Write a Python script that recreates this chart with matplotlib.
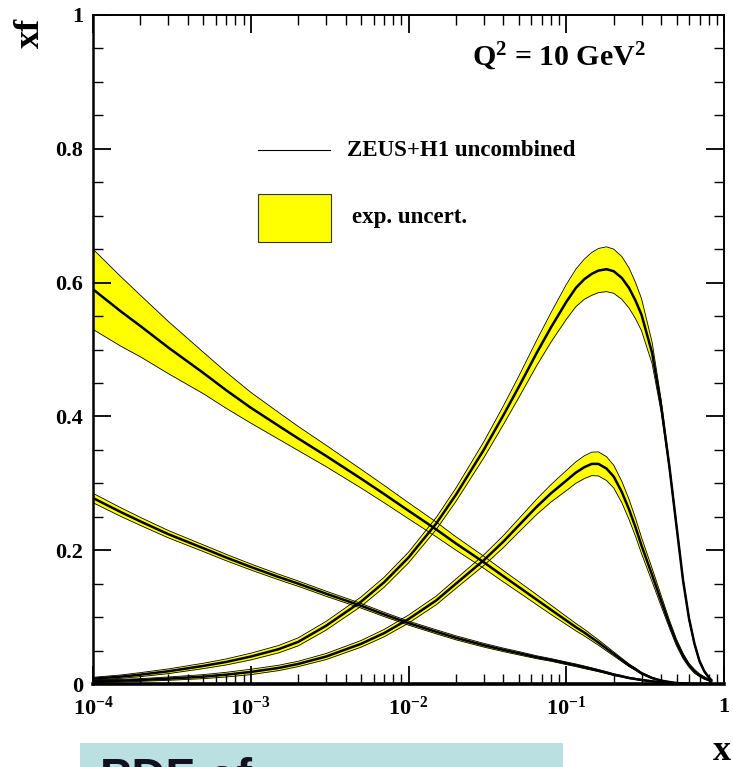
import matplotlib
matplotlib.use("Agg")
import matplotlib.pyplot as plt
import matplotlib.ticker as mticker
from matplotlib.patches import Rectangle
import numpy as np

plt.rcParams['font.family'] = ['Liberation Serif', 'DejaVu Serif']
plt.rcParams['font.weight'] = 'bold'
plt.rcParams['mathtext.fontset'] = 'custom'
plt.rcParams['mathtext.rm'] = 'Liberation Serif:bold'
plt.rcParams['mathtext.bf'] = 'Liberation Serif:bold'
plt.rcParams['mathtext.default'] = 'bf'

# x grid shared by all curves
x = np.array([1e-4, 1.5e-4, 2e-4, 3e-4, 5e-4, 7e-4,
              1e-3, 1.5e-3, 2e-3, 3e-3, 5e-3, 7e-3,
              1e-2, 0.015, 0.02, 0.03, 0.04, 0.05,
              0.065, 0.08, 0.1, 0.115, 0.13, 0.145,
              0.16, 0.18, 0.2, 0.225, 0.25, 0.275,
              0.3, 0.35, 0.4, 0.45, 0.5, 0.55,
              0.6, 0.65, 0.7, 0.75, 0.8, 0.83])

# gluon-like curve (wide band at low x)
glu = np.array([0.590, 0.557, 0.535, 0.503, 0.465, 0.439,
                0.413, 0.386, 0.367, 0.341, 0.307, 0.284,
                0.259, 0.231, 0.210, 0.182, 0.161, 0.145,
                0.126, 0.111, 0.095, 0.085, 0.077, 0.069,
                0.062, 0.053, 0.045, 0.036, 0.028, 0.022,
                0.016, 0.009, 0.005, 0.003, 0.0015, 0.0008,
                0.0003, 0, 0, 0, 0, 0])
glu_err = np.array([0.060, 0.052, 0.046, 0.039, 0.031, 0.027,
                    0.023, 0.020, 0.018, 0.016, 0.014, 0.013,
                    0.012, 0.011, 0.010, 0.009, 0.0085, 0.008,
                    0.0075, 0.007, 0.006, 0.0055, 0.005, 0.0045,
                    0.004, 0.0035, 0.003, 0.0025, 0.002, 0.0018,
                    0.0015, 0.001, 0.0008, 0.0005, 0.0003, 0.0002,
                    0.0001, 0, 0, 0, 0, 0])

# sea-like curve
sea = np.array([0.278, 0.257, 0.243, 0.224, 0.203, 0.189,
                0.175, 0.160, 0.150, 0.135, 0.117, 0.104,
                0.091, 0.078, 0.069, 0.058, 0.051, 0.046,
                0.040, 0.036, 0.031, 0.028, 0.025, 0.0225,
                0.020, 0.017, 0.014, 0.0115, 0.009, 0.0075,
                0.006, 0.004, 0.0025, 0.0015, 0.0008, 0.0004,
                0.0002, 0, 0, 0, 0, 0])
sea_err = np.array([0.007, 0.0065, 0.006, 0.0055, 0.005, 0.0048,
                    0.0045, 0.0042, 0.004, 0.0038, 0.0035, 0.0032,
                    0.003, 0.003, 0.003, 0.0028, 0.0026, 0.0025,
                    0.0022, 0.002, 0.002, 0.002, 0.002, 0.0018,
                    0.0016, 0.0015, 0.0014, 0.0012, 0.001, 0.001,
                    0.001, 0.0008, 0.0006, 0.0004, 0.0002, 0.0001,
                    0.0001, 0, 0, 0, 0, 0])

# u valence
uv = np.array([0.008, 0.011, 0.014, 0.019, 0.027, 0.033,
               0.041, 0.052, 0.063, 0.087, 0.123, 0.152,
               0.189, 0.240, 0.283, 0.350, 0.402, 0.444,
               0.495, 0.533, 0.571, 0.592, 0.605, 0.613,
               0.618, 0.620, 0.617, 0.607, 0.592, 0.573,
               0.552, 0.495, 0.415, 0.326, 0.236, 0.155,
               0.098, 0.060, 0.034, 0.019, 0.010, 0.006])
uv_err = np.array([0.002, 0.0025, 0.003, 0.0035, 0.004, 0.0045,
                   0.005, 0.0055, 0.006, 0.0065, 0.007, 0.0075,
                   0.008, 0.009, 0.010, 0.012, 0.014, 0.016,
                   0.019, 0.022, 0.026, 0.028, 0.030, 0.032,
                   0.033, 0.0335, 0.033, 0.032, 0.030, 0.027,
                   0.024, 0.016, 0.009, 0.005, 0.004, 0.003,
                   0.003, 0.002, 0.002, 0.0015, 0.001, 0.001])

# d valence
dv = np.array([0.004, 0.005, 0.006, 0.008, 0.011, 0.014,
               0.018, 0.024, 0.030, 0.041, 0.060, 0.076,
               0.097, 0.125, 0.150, 0.185, 0.213, 0.237,
               0.265, 0.285, 0.304, 0.316, 0.324, 0.329,
               0.329, 0.322, 0.310, 0.287, 0.261, 0.234,
               0.207, 0.163, 0.124, 0.090, 0.062, 0.042,
               0.028, 0.019, 0.013, 0.009, 0.006, 0.004])
dv_err = np.array([0.002, 0.002, 0.002, 0.0025, 0.003, 0.0035,
                   0.004, 0.004, 0.004, 0.0045, 0.005, 0.0055,
                   0.006, 0.0065, 0.007, 0.008, 0.009, 0.010,
                   0.0115, 0.013, 0.015, 0.016, 0.017, 0.0175,
                   0.018, 0.0178, 0.017, 0.016, 0.015, 0.0135,
                   0.012, 0.010, 0.008, 0.006, 0.005, 0.004,
                   0.003, 0.003, 0.002, 0.002, 0.001, 0.001])

xtick_vals = [1e-4, 1e-3, 1e-2, 1e-1, 1]
xtick_labels = [r'$10^{-4}$', r'$10^{-3}$', r'$10^{-2}$', r'$10^{-1}$', '1']
ytick_vals = [0, 0.2, 0.4, 0.6, 0.8, 1]
ytick_labels = ['0', '0.2', '0.4', '0.6', '0.8', '1']

fig = plt.figure(figsize=(7.33, 7.67), dpi=100)
ax = fig.add_axes([93 / 733, 1 - 684 / 767, 631 / 733, 669 / 767])

for y, e in [(sea, sea_err), (dv, dv_err), (uv, uv_err), (glu, glu_err)]:
    ax.fill_between(x, y - e, y + e, color='#ffff00', lw=0)
    ax.plot(x, y + e, color='black', lw=0.6, solid_joinstyle='round')
    ax.plot(x, y - e, color='black', lw=0.6, solid_joinstyle='round')
    ax.plot(x, y, color='black', lw=1.8, solid_joinstyle='round')

ax.set_xscale('log')
ax.set_xlim(1e-4, 1)
ax.set_ylim(0, 1)

ax.set_xticks(xtick_vals)
ax.set_xticklabels(xtick_labels)
ax.xaxis.set_minor_locator(mticker.LogLocator(base=10, subs=np.arange(2, 10), numticks=20))
ax.xaxis.set_minor_formatter(mticker.NullFormatter())
ax.set_yticks(ytick_vals)
ax.set_yticklabels(ytick_labels)
ax.yaxis.set_minor_locator(mticker.MultipleLocator(0.05))

ax.tick_params(which='both', direction='in', top=True, right=True, labelsize=16)
ax.tick_params(which='major', length=13, width=1.3)
ax.tick_params(which='minor', length=7, width=1.0)
ax.tick_params(axis='x', pad=9)
ax.tick_params(axis='y', pad=7)
for lab in ax.get_xticklabels() + ax.get_yticklabels():
    lab.set_fontweight('bold')
for side in ['top', 'right']:
    ax.spines[side].set_linewidth(1.4)
ax.spines['left'].set_linewidth(1.8)
ax.spines['bottom'].set_linewidth(2.6)

# legend drawn by hand
ax.plot([0.2615, 0.3756], [0.798, 0.798], color='black', lw=0.8, transform=ax.transAxes)
ax.add_patch(Rectangle((0.2615, 0.661), 0.1155, 0.071, transform=ax.transAxes,
                       facecolor='#ffff00', edgecolor='#333333', lw=0.8))
ax.text(0.4025, 0.797, 'ZEUS+H1 uncombined', transform=ax.transAxes,
        fontsize=16.5, fontweight='bold', va='center', ha='left')
ax.text(0.4105, 0.6966, 'exp. uncert.', transform=ax.transAxes,
        fontsize=16.5, fontweight='bold', va='center', ha='left')
ax.text(0.6006, 0.937, 'Q$^2$ = 10 GeV$^2$', transform=ax.transAxes,
        fontsize=21.5, fontweight='bold', va='center', ha='left')

fig.text(30 / 733, 1 - 33 / 767, 'xf', rotation=90, fontsize=26, fontweight='bold',
         ha='center', va='center')
fig.text(722 / 733, 1 - 752 / 767, 'x', fontsize=26, fontweight='bold',
         ha='center', va='center')

# partially visible caption box at the bottom
fig.patches.append(Rectangle((80 / 733, -0.05), 483 / 733, 0.05 + 1 - 743 / 767,
                             transform=fig.transFigure, facecolor='#bae0e2',
                             edgecolor='none'))
fig.text(100 / 733, 1 - 791 / 767, 'PDF of', fontsize=34, fontweight='bold',
         family=['Liberation Sans', 'DejaVu Sans'], color='#111122',
         ha='left', va='baseline')

fig.savefig('out.png', dpi=100)
